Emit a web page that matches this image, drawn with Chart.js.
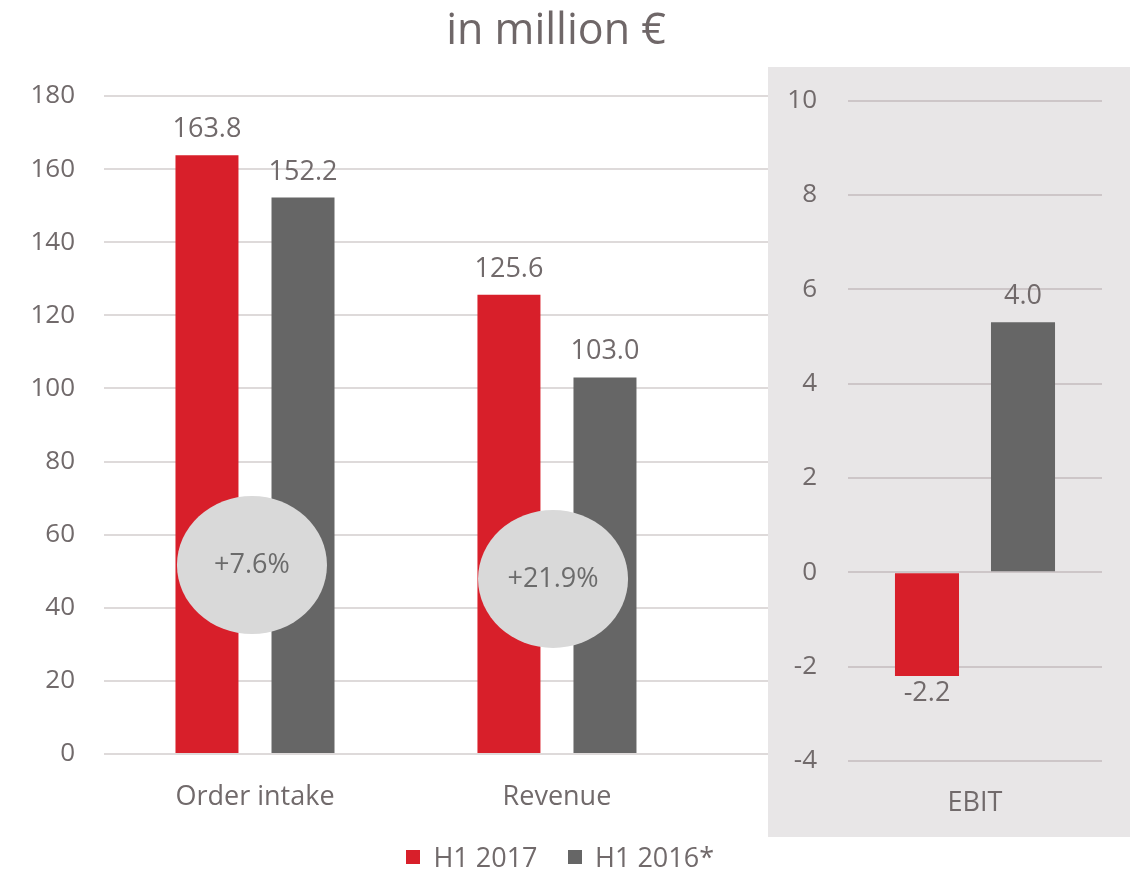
<!DOCTYPE html>
<html lang="en">
<head>
<meta charset="UTF-8">
<title>H1 2017 in million €</title>
<script src="https://cdn.jsdelivr.net/npm/chart.js"></script>
<style>
    html, body { margin: 0; padding: 0; background: #fff; overflow: hidden; }
    #wrap { position: relative; width: 1134px; height: 870px; overflow: hidden; font-family: 'Open Sans', sans-serif; }
    #mainBox { position: absolute; left: 0; top: 0; width: 1134px; height: 870px; }
    #ebitPanel { position: absolute; left: 768px; top: 67px; width: 362px; height: 770px; background: #e8e6e7; }
    /* canvas starts a bit above the panel: chart.js keeps room for the top tick label */
    #ebitBox { position: absolute; left: 768px; top: 54px; width: 362px; height: 791px; }
    #legend {
        position: absolute; left: 0; top: 842px; width: 1120px; height: 30px;
        display: flex; justify-content: center; align-items: center;
        font-size: 27px; color: #716a6b; line-height: 30px;
    }
    #legend .item { display: flex; align-items: center; margin: 0 15px; }
    #legend .box { width: 14px; height: 14px; margin-right: 13.5px; }
</style>
</head>
<body>
<div id="wrap">
    <div id="mainBox"><canvas id="mainChart"></canvas></div>
    <div id="ebitPanel"></div>
    <div id="ebitBox"><canvas id="ebitChart"></canvas></div>
    <div id="legend"></div>
</div>

<script>
const seriesNames = ["H1 2017", "H1 2016*"];

const categories = ["Order intake", "Revenue"];
const h1_2017 = [163.8, 125.6];
const h1_2016 = [152.2, 103.0];
const labels2017 = ["163.8", "125.6"];
const labels2016 = ["152.2", "103.0"];

// change bubbles, placed in axis units
const changeLabels = ["+7.6%", "+21.9%"];
const changeX = [-0.01, 0.987];
const changeY = [51.7, 47.9];

const ebitCategories = ["EBIT"];
const ebit2017 = [-2.2];
const ebit2016 = [5.3];          // the bar in the original reaches ~5.3 although labelled 4.0
const ebitLabels2017 = ["-2.2"];
const ebitLabels2016 = ["4.0"];

const RED = "#d81f2a";
const GREY = "#666666";
const TEXT = "#716a6b";
const FONT = "'Open Sans', sans-serif";

// value labels above (or below, for negatives) each bar
const barLabels = {
    id: "barLabels",
    afterDatasetsDraw(chart) {
        const ctx = chart.ctx;
        ctx.save();
        ctx.font = "27px " + FONT;
        ctx.fillStyle = TEXT;
        ctx.textAlign = "center";
        ctx.textBaseline = "alphabetic";
        chart.data.datasets.forEach((ds, di) => {
            chart.getDatasetMeta(di).data.forEach((bar, i) => {
                const raw = ds.data[i];
                const v = typeof raw === "object" ? raw.y : raw;
                const txt = ds.valueLabels[i];
                if (v >= 0) ctx.fillText(txt, bar.x, bar.y - 18);
                else ctx.fillText(txt, bar.x, bar.y + 25);
            });
        });
        ctx.restore();
    }
};

const bubbles = {
    id: "bubbles",
    afterDatasetsDraw(chart) {
        const { ctx, scales: { x, y } } = chart;
        ctx.save();
        changeLabels.forEach((t, i) => {
            const cx = x.getPixelForValue(changeX[i]);
            const cy = y.getPixelForValue(changeY[i]);
            ctx.beginPath();
            ctx.ellipse(cx, cy, 75, 69, 0, 0, Math.PI * 2);
            ctx.fillStyle = "#d9d9d9";
            ctx.fill();
            ctx.fillStyle = "#6b6b6b";
            ctx.font = "27px " + FONT;
            ctx.textAlign = "center";
            ctx.textBaseline = "middle";
            ctx.fillText(t, cx, cy);
        });
        ctx.restore();
    }
};

// left chart: linear x so the grid can run on under the EBIT panel
const mainChart = new Chart(document.getElementById("mainChart"), {
    type: "bar",
    data: {
        datasets: [
            {
                label: seriesNames[0],
                data: categories.map((c, i) => ({ x: i, y: h1_2017[i] })),
                valueLabels: labels2017,
                backgroundColor: RED,
                borderWidth: 0,
                categoryPercentage: 0.636,
                barPercentage: 0.656
            },
            {
                label: seriesNames[1],
                data: categories.map((c, i) => ({ x: i, y: h1_2016[i] })),
                valueLabels: labels2016,
                backgroundColor: GREY,
                borderWidth: 0,
                categoryPercentage: 0.636,
                barPercentage: 0.656
            }
        ]
    },
    options: {
        responsive: true,
        maintainAspectRatio: false,
        animation: false,
        layout: { padding: { left: 0, right: 22, top: 0, bottom: 30 } },
        plugins: {
            title: {
                display: true,
                text: "in million €",
                color: "#6f6768",
                font: { family: FONT, size: 43, weight: "normal" },
                padding: { top: 6, bottom: 38.4 }
            },
            legend: { display: false },
            tooltip: { enabled: false }
        },
        scales: {
            x: {
                type: "linear",
                min: -0.5,
                max: 2.838,
                offset: false,
                grid: { display: false, drawTicks: false },
                border: { display: false },
                afterBuildTicks(axis) {
                    axis.ticks = categories.map((c, i) => ({ value: i }));
                },
                ticks: {
                    callback: (v) => categories[v],
                    padding: 26.8,
                    maxRotation: 0,
                    autoSkip: false,
                    color: TEXT,
                    font: { family: FONT, size: 27 }
                }
            },
            y: {
                min: 0,
                max: 180,
                ticks: { stepSize: 20, padding: 29, color: TEXT, font: { family: FONT, size: 26 } },
                grid: { color: "#dedada", lineWidth: 2, drawTicks: false },
                border: { display: false },
                afterFit(scale) { scale.width = 104; }
            }
        }
    },
    plugins: [bubbles, barLabels]
});

// right chart: EBIT on its own scale, on the grey panel
new Chart(document.getElementById("ebitChart"), {
    type: "bar",
    data: {
        labels: ebitCategories,
        datasets: [
            {
                label: seriesNames[0],
                data: ebit2017,
                valueLabels: ebitLabels2017,
                backgroundColor: RED,
                borderWidth: 0,
                categoryPercentage: 0.756,
                barPercentage: 0.667
            },
            {
                label: seriesNames[1],
                data: ebit2016,
                valueLabels: ebitLabels2016,
                backgroundColor: GREY,
                borderWidth: 0,
                categoryPercentage: 0.756,
                barPercentage: 0.667
            }
        ]
    },
    options: {
        responsive: true,
        maintainAspectRatio: false,
        animation: false,
        layout: { padding: { left: 0, right: 28, top: 0, bottom: 0 } },
        plugins: {
            legend: { display: false },
            tooltip: { enabled: false }
        },
        scales: {
            x: {
                grid: { display: false, drawTicks: false },
                border: { display: false },
                ticks: { padding: 25.8, color: TEXT, font: { family: FONT, size: 27 } }
            },
            y: {
                min: -4,
                max: 10,
                ticks: { stepSize: 2, padding: 31, color: TEXT, font: { family: FONT, size: 26 } },
                grid: { color: "#cdc6c8", lineWidth: 2, drawTicks: false },
                border: { display: false },
                afterFit(scale) { scale.width = 80; }
            }
        }
    },
    plugins: [barLabels]
});

// shared legend under both charts, built from the left chart's datasets
const legendEl = document.getElementById("legend");
mainChart.data.datasets.forEach((ds) => {
    const item = document.createElement("span");
    item.className = "item";
    const box = document.createElement("span");
    box.className = "box";
    box.style.background = ds.backgroundColor;
    item.appendChild(box);
    item.appendChild(document.createTextNode(ds.label));
    legendEl.appendChild(item);
});
</script>
</body>
</html>
